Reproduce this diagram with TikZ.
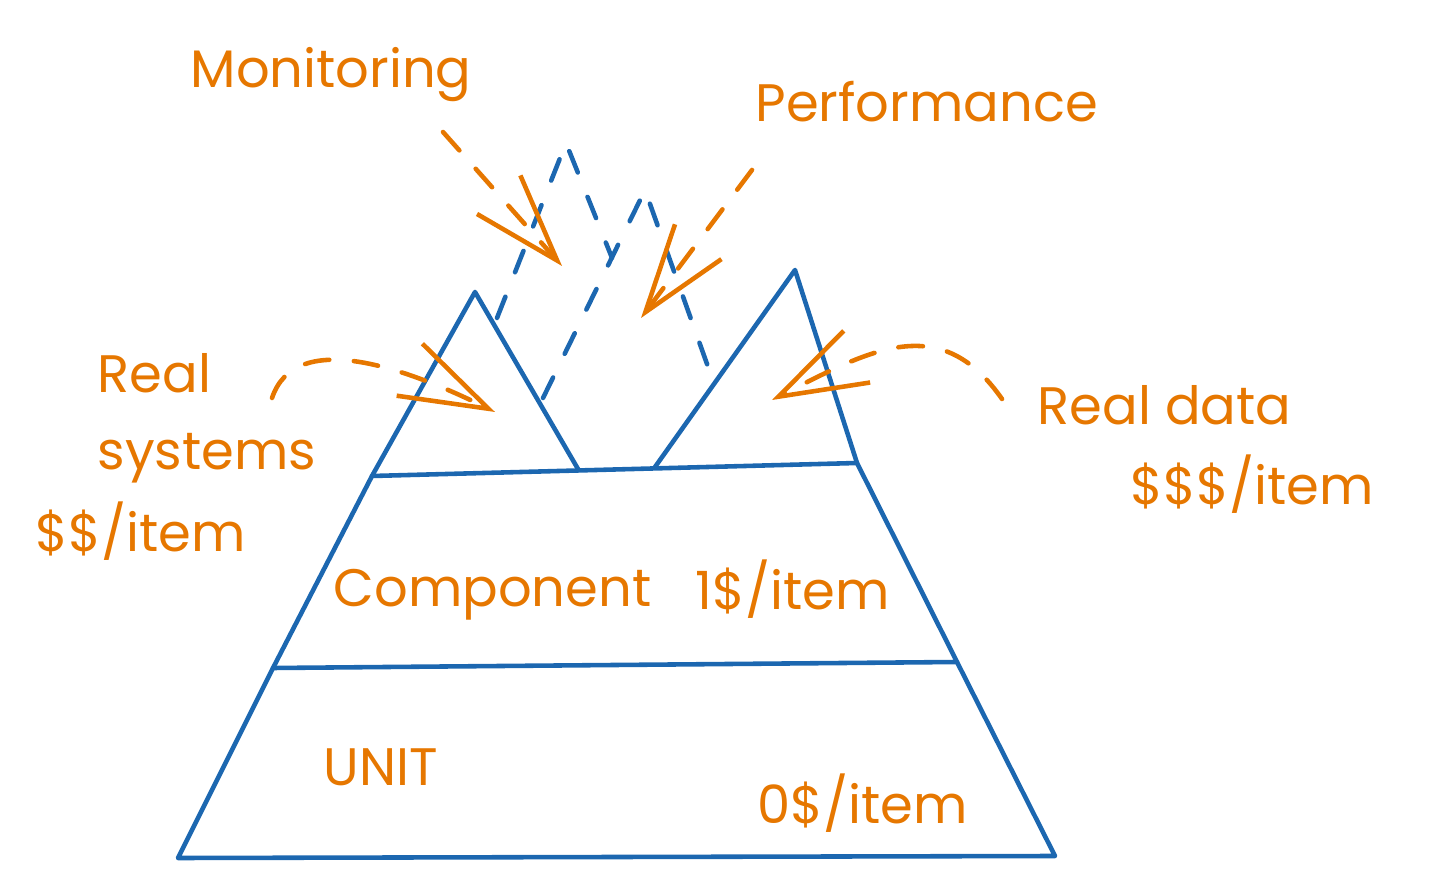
\documentclass[tikz,border=0pt]{standalone}
\usepackage{fontspec}
\setmainfont{Poppins}
\usetikzlibrary{arrows.meta}
\definecolor{SketchBlue}{HTML}{1C67B0}
\definecolor{SketchOrange}{HTML}{E67700}

\begin{document}
\begin{tikzpicture}[x=0.01cm, y=-0.01cm, line cap=round, line join=round,
    every node/.style={font=\fontsize{15}{18}\selectfont, text=SketchOrange, inner sep=0pt},
    edge/.style={draw=SketchBlue, line width=1.3pt},
    ghost/.style={draw=SketchBlue, line width=1.3pt, dash pattern=on 6.5pt off 7.5pt},
    pointer/.style={draw=SketchOrange, line width=1.3pt, dash pattern=on 7pt off 7pt,
        -{Straight Barb[length=8.8mm, width=5.8mm, line width=1.3pt]}}]
    \useasboundingbox (0,0) rectangle (1449,892);

    % pyramid corners
    \coordinate (baseL) at (178,858);
    \coordinate (baseR) at (1055,856);
    \coordinate (unitL) at (273,668);
    \coordinate (unitR) at (957,662);
    \coordinate (compL) at (372,476);
    \coordinate (compR) at (857,463);
    \coordinate (lpeak) at (475,292);
    \coordinate (lpeakR) at (578,469);
    \coordinate (rpeakL) at (655,467);
    \coordinate (rpeak) at (795,270);

    % dashed peaks
    \coordinate (ghostAL) at (497,318);
    \coordinate (ghostA) at (566,143);
    \coordinate (ghostAR) at (612,258);
    \coordinate (ghostBL) at (543,398);
    \coordinate (ghostB) at (645,190);
    \coordinate (ghostBR) at (712,378);

    % arrow ends
    \coordinate (monFrom) at (443,132);
    \coordinate (monTo) at (562,266);
    \coordinate (perfFrom) at (752,170);
    \coordinate (perfTo) at (641,318);
    \coordinate (sysFrom) at (272,398);
    \coordinate (sysTo) at (495,412);
    \coordinate (dataFrom) at (1002,399);
    \coordinate (dataTo) at (772,400);

    % layers
    \draw[edge] (baseL) -- (baseR) -- (unitR) -- (unitL) -- cycle;
    \draw[edge] (unitL) -- (compL) -- (compR) -- (unitR);
    \draw[edge] (compL) -- (lpeak) -- (lpeakR);
    \draw[edge] (rpeakL) -- (rpeak) -- (compR);

    \draw[ghost] (ghostAL) -- (ghostA) -- (ghostAR);
    \draw[ghost] (ghostBL) -- (ghostB) -- (ghostBR);

    % labels
    \node[anchor=base west] (monitoring) at (190,88) {Monitoring};
    \node[anchor=base west] (performance) at (755,122) {Performance};
    \node[anchor=base west] (real) at (97,393) {Real};
    \node[anchor=base west] (systems) at (97,470) {systems};
    \node[anchor=base west] (sysCost) at (35,552) {\$\$/item};
    \node[anchor=base west] (realData) at (1037,425) {Real data};
    \node[anchor=base west] (dataCost) at (1130,505) {\$\$\$/item};
    \node[anchor=base west] (component) at (333,607) {Component};
    \node[anchor=base west] (compCost) at (695,610) {1\$/item};
    \node[anchor=base west] (unit) at (323,785) {UNIT};
    \node[anchor=base west] (unitCost) at (757,823) {0\$/item};

    % arrows
    \draw[pointer] (monFrom) -- (monTo);
    \draw[pointer] (perfFrom) -- (perfTo);
    \draw[pointer] (sysFrom) .. controls (295,330) and (400,365) .. (sysTo);
    \draw[pointer] (dataFrom) .. controls (940,310) and (870,350) .. (dataTo);
\end{tikzpicture}
\end{document}
